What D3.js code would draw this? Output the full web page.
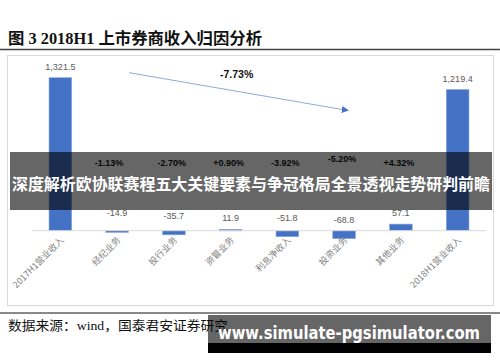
<!DOCTYPE html>
<html>
<head>
<meta charset="utf-8">
<script src="https://cdn.jsdelivr.net/npm/d3@7"></script>
<style>
  body { margin: 0; background: #fff; }
  svg { display: block; }
</style>
</head>
<body>
<div id="chart"></div>
<script>
//Chart data
const categories = ["2017H1营业收入", "经纪业务", "投行业务", "资管业务", "利息净收入", "投资业务", "其他业务", "2018H1营业收入"];
const values = [1321.5, -14.9, -35.7, 11.9, -51.8, -68.8, 57.1, 1219.4];
const valueLabels = ["1,321.5", "-14.9", "-35.7", "11.9", "-51.8", "-68.8", "57.1", "1,219.4"];
const changeLabels = ["", "-1.13%", "-2.70%", "+0.90%", "-3.92%", "-5.20%", "+4.32%", ""];
const totalChange = "-7.73%";

const w = 500, h = 362;
const cjk = "'Noto Sans CJK SC', sans-serif";
const serif = "'Liberation Serif', 'Noto Sans CJK SC', serif";

const svg = d3.select("#chart").append("svg")
    .attr("width", w)
    .attr("height", h);

//Title
svg.append("text")
    .attr("x", 8).attr("y", 44)
    .attr("font-family", serif)
    .attr("font-weight", "bold")
    .attr("font-size", 16)
    .attr("textLength", 254)
    .attr("lengthAdjust", "spacingAndGlyphs")
    .attr("fill", "#111")
    .text("图  3 2018H1 上市券商收入归因分析");

//Title underline
svg.append("line")
    .attr("x1", 0).attr("x2", w)
    .attr("y1", 49.5).attr("y2", 49.5)
    .attr("stroke", "#444").attr("stroke-width", 1.5);

//Chart frame
svg.append("rect")
    .attr("x", 7.5).attr("y", 55.5)
    .attr("width", 486).attr("height", 250)
    .attr("fill", "none")
    .attr("stroke", "#d9d9d9");

//Scales
const x = d3.scaleBand()
    .domain(categories)
    .range([32, 486])
    .paddingInner(0.6)
    .paddingOuter(0.3);

const y = d3.scaleLinear()
    .domain([0, d3.max(values)])
    .range([230.7, 77.7]);

//Bars
svg.append("g")
    .selectAll("rect")
    .data(values)
    .enter()
    .append("rect")
    .attr("x", (d, i) => x(categories[i]))
    .attr("width", x.bandwidth())
    .attr("y", d => Math.min(y(d), y(0)))
    .attr("height", d => Math.max(1.5, Math.abs(y(d) - y(0))))
    .attr("fill", "#4472c4")
    .attr("stroke", "#8faadc")
    .attr("stroke-width", 0.6);

//Axis line
svg.append("line")
    .attr("x1", 32).attr("x2", 486)
    .attr("y1", y(0)).attr("y2", y(0))
    .attr("stroke", "#d9d9d9").attr("stroke-width", 1);

//Value labels
svg.append("g")
    .selectAll("text")
    .data(values)
    .enter()
    .append("text")
    .attr("x", (d, i) => x(categories[i]) + x.bandwidth() / 2)
    .attr("y", d => d >= 0 ? y(d) - 8 : y(d) - 16)
    .attr("text-anchor", "middle")
    .attr("font-family", "'Liberation Sans Narrow', 'Liberation Sans', sans-serif")
    .attr("font-size", 9)
    .attr("fill", "#595959")
    .text((d, i) => valueLabels[i]);

//X axis labels
svg.append("g")
    .selectAll("text")
    .data(categories)
    .enter()
    .append("text")
    .attr("transform", d => `translate(${x(d) + x.bandwidth() / 2 + 4},${y(0) + 10}) rotate(-45)`)
    .attr("text-anchor", "end")
    .attr("font-family", cjk)
    .attr("font-size", 9)
    .attr("fill", "#7f7f7f")
    .text(d => d);

//Change percentages
svg.append("g")
    .selectAll("text")
    .data(changeLabels)
    .enter()
    .append("text")
    .attr("x", (d, i) => x(categories[i]) + x.bandwidth() / 2 - (i === 1 ? 8 : 2))
    .attr("y", (d, i) => i === 5 ? 162 : 166)
    .attr("text-anchor", "middle")
    .attr("font-family", "'Liberation Sans Narrow', 'Liberation Sans', sans-serif")
    .attr("font-weight", "bold")
    .attr("font-size", 9)
    .attr("fill", "#111")
    .text(d => d);

//Trend arrow
svg.append("defs").append("marker")
    .attr("id", "arrow")
    .attr("viewBox", "0 0 10 10")
    .attr("refX", 9).attr("refY", 5)
    .attr("markerWidth", 7).attr("markerHeight", 7)
    .attr("orient", "auto")
    .append("path")
    .attr("d", "M0,0L10,5L0,10Z")
    .attr("fill", "#4472c4");

svg.append("line")
    .attr("x1", x(categories[1]) + x.bandwidth() / 2 + 12)
    .attr("y1", 72.7)
    .attr("x2", x(categories[5]) + x.bandwidth() / 2 + 4)
    .attr("y2", 110.5)
    .attr("stroke", "#8faadc")
    .attr("stroke-width", 1)
    .attr("marker-end", "url(#arrow)");

svg.append("text")
    .attr("x", x(categories[3]) + x.bandwidth() / 2 + 6)
    .attr("y", 78)
    .attr("text-anchor", "middle")
    .attr("font-family", "'Liberation Sans Narrow', 'Liberation Sans', sans-serif")
    .attr("font-weight", "bold")
    .attr("font-size", 10.5)
    .attr("fill", "#111")
    .text(totalChange);

//Bottom separator
svg.append("line")
    .attr("x1", 0).attr("x2", w)
    .attr("y1", 313).attr("y2", 313)
    .attr("stroke", "#888").attr("stroke-width", 2);

//Source
svg.append("text")
    .attr("x", 8).attr("y", 330)
    .attr("font-family", serif)
    .attr("font-size", 13)
    .attr("textLength", 220)
    .attr("lengthAdjust", "spacingAndGlyphs")
    .attr("fill", "#111")
    .text("数据来源：wind，国泰君安证券研究");

//Overlay band
svg.append("rect")
    .attr("x", 10).attr("y", 152)
    .attr("width", 482).attr("height", 58)
    .attr("fill", "rgba(0,0,0,0.6)");

svg.append("text")
    .attr("x", 251).attr("y", 190)
    .attr("text-anchor", "middle")
    .attr("font-family", cjk)
    .attr("font-weight", "bold")
    .attr("font-size", 16)
    .attr("textLength", 478)
    .attr("lengthAdjust", "spacingAndGlyphs")
    .attr("fill", "#fff")
    .text("深度解析欧协联赛程五大关键要素与争冠格局全景透视走势研判前瞻");

//Watermark
svg.append("rect")
    .attr("x", 208).attr("y", 315)
    .attr("width", 283).attr("height", 29)
    .attr("fill", "rgba(0,0,0,0.6)");

svg.append("rect")
    .attr("x", 208).attr("y", 343)
    .attr("width", 283).attr("height", 10)
    .attr("fill", "#000");

svg.append("text")
    .attr("x", 218).attr("y", 339)
    .attr("font-family", "'DejaVu Sans', sans-serif")
    .attr("font-weight", "bold")
    .attr("font-size", 17)
    .attr("textLength", 262)
    .attr("lengthAdjust", "spacingAndGlyphs")
    .attr("fill", "#fff")
    .text("www.simulate-pgsimulator.com");
</script>
</body>
</html>
